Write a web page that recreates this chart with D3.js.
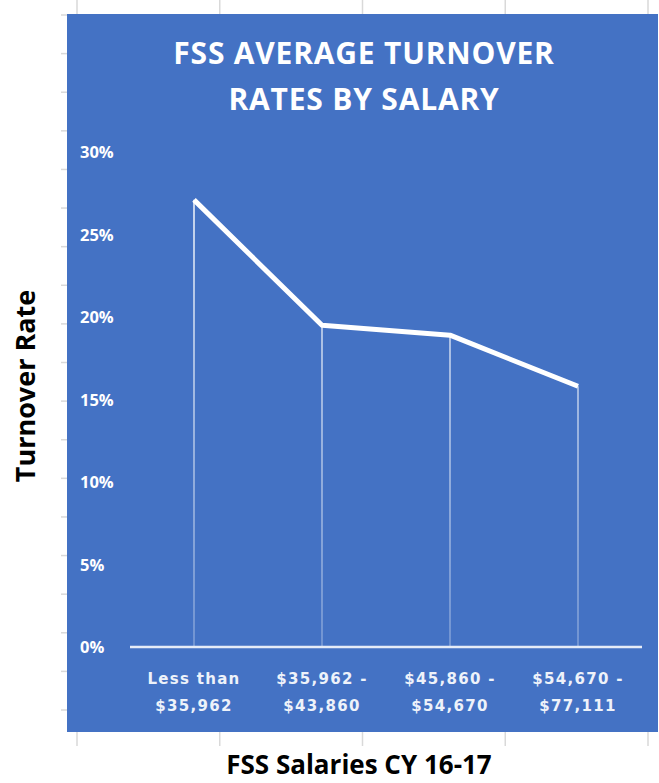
<!DOCTYPE html>
<html lang="en">
<head>
<meta charset="UTF-8">
<title>FSS Average Turnover Rates by Salary</title>
<script src="https://d3js.org/d3.v7.min.js"></script>
<style>
    body { margin: 0; background: #fff; }
    text { font-family: "Open Sans", sans-serif; }
</style>
</head>
<body>
<svg id="chart" width="659" height="783"></svg>
<script>
    // data
    const categories = ["Less than|$35,962", "$35,962 -|$43,860", "$45,860 -|$54,670", "$54,670 -|$77,111"];
    const turnover = [27.1, 19.5, 18.9, 15.8];
    const yTicks = [0, 5, 10, 15, 20, 25, 30];

    const svg = d3.select("#chart");

    // outer frame (white area with light gray ticks)
    const frameX = d3.scaleLinear().domain([0, 4]).range([77, 648]);
    const frameY = d3.scaleLinear().domain([0, 18]).range([15, 710]);

    svg.append("g")
        .selectAll("line.top")
        .data(d3.range(5))
        .join("line")
        .attr("x1", d => frameX(d)).attr("x2", d => frameX(d))
        .attr("y1", 0).attr("y2", 14)
        .attr("stroke", "#d9d9d9").attr("stroke-width", 1.5);

    svg.append("g")
        .selectAll("line.bot")
        .data(d3.range(5))
        .join("line")
        .attr("x1", d => frameX(d)).attr("x2", d => frameX(d))
        .attr("y1", 732).attr("y2", 746)
        .attr("stroke", "#d9d9d9").attr("stroke-width", 1.5);

    svg.append("g")
        .selectAll("line.left")
        .data(d3.range(19))
        .join("line")
        .attr("x1", 61).attr("x2", 67)
        .attr("y1", d => frameY(d)).attr("y2", d => frameY(d))
        .attr("stroke", "#d9d9d9").attr("stroke-width", 1.5);

    // blue picture panel
    svg.append("rect")
        .attr("x", 67).attr("y", 14)
        .attr("width", 591).attr("height", 718)
        .attr("fill", "#4472c4");

    // title
    svg.append("text")
        .attr("text-anchor", "middle")
        .attr("fill", "#ffffff")
        .style("font-size", "30px")
        .style("font-weight", 700)
        .style("letter-spacing", "0.8px")
        .selectAll("tspan")
        .data(["FSS AVERAGE TURNOVER", "RATES BY SALARY"])
        .join("tspan")
        .attr("x", 364)
        .attr("y", (d, i) => 64 + i * 46)
        .text(d => d);

    // scales
    const x = d3.scaleBand().domain(categories).range([130, 642]);
    const y = d3.scaleLinear().domain([0, 30]).range([647, 152]);

    // y tick labels
    svg.append("g")
        .selectAll("text")
        .data(yTicks)
        .join("text")
        .attr("x", 80)
        .attr("y", d => y(d) + 6)
        .attr("fill", "#ffffff")
        .style("font-size", "16.5px")
        .style("font-weight", 700)
        .text(d => d + "%");

    // drop lines
    const defs = svg.append("defs");
    const grad = defs.append("linearGradient")
        .attr("id", "dropGrad")
        .attr("gradientUnits", "userSpaceOnUse")
        .attr("x1", 0).attr("x2", 0)
        .attr("y1", y(30)).attr("y2", y(0));
    grad.append("stop").attr("offset", "0%").attr("stop-color", "#ffffff").attr("stop-opacity", 0.95);
    grad.append("stop").attr("offset", "100%").attr("stop-color", "#ffffff").attr("stop-opacity", 0.3);

    const cx = d => x(d) + x.bandwidth() / 2;

    svg.append("g")
        .selectAll("line")
        .data(categories)
        .join("line")
        .attr("x1", d => cx(d)).attr("x2", d => cx(d))
        .attr("y1", (d, i) => y(turnover[i]))
        .attr("y2", y(0))
        .attr("stroke", "url(#dropGrad)")
        .attr("stroke-width", 1.6);

    // x axis line
    svg.append("line")
        .attr("x1", x.range()[0]).attr("x2", x.range()[1])
        .attr("y1", y(0)).attr("y2", y(0))
        .attr("stroke", "#e6ecf7")
        .attr("stroke-width", 2.5);

    // turnover line
    const line = d3.line()
        .x((d, i) => cx(categories[i]))
        .y(d => y(d));

    svg.append("path")
        .datum(turnover)
        .attr("d", line)
        .attr("fill", "none")
        .attr("stroke", "#ffffff")
        .attr("stroke-width", 5)
        .attr("stroke-linejoin", "round");

    // x category labels
    svg.append("g")
        .selectAll("text")
        .data(categories)
        .join("text")
        .attr("text-anchor", "middle")
        .attr("fill", "#eef2fa")
        .style("font-family", "'DejaVu Sans', sans-serif")
        .style("font-size", "15px")
        .style("font-weight", 700)
        .style("letter-spacing", "1.3px")
        .each(function (d) {
            d3.select(this).selectAll("tspan")
                .data(d.split("|"))
                .join("tspan")
                .attr("x", cx(d))
                .attr("y", (t, i) => 684 + i * 27)
                .text(t => t);
        });

    // axis titles
    svg.append("text")
        .attr("transform", "translate(35,386) rotate(-90)")
        .attr("text-anchor", "middle")
        .attr("fill", "#000")
        .style("font-size", "27px")
        .style("font-weight", 700)
        .text("Turnover Rate");

    svg.append("text")
        .attr("x", 359).attr("y", 774)
        .attr("text-anchor", "middle")
        .attr("fill", "#000")
        .style("font-size", "26px")
        .style("font-weight", 700)
        .text("FSS Salaries CY 16-17");
</script>
</body>
</html>
